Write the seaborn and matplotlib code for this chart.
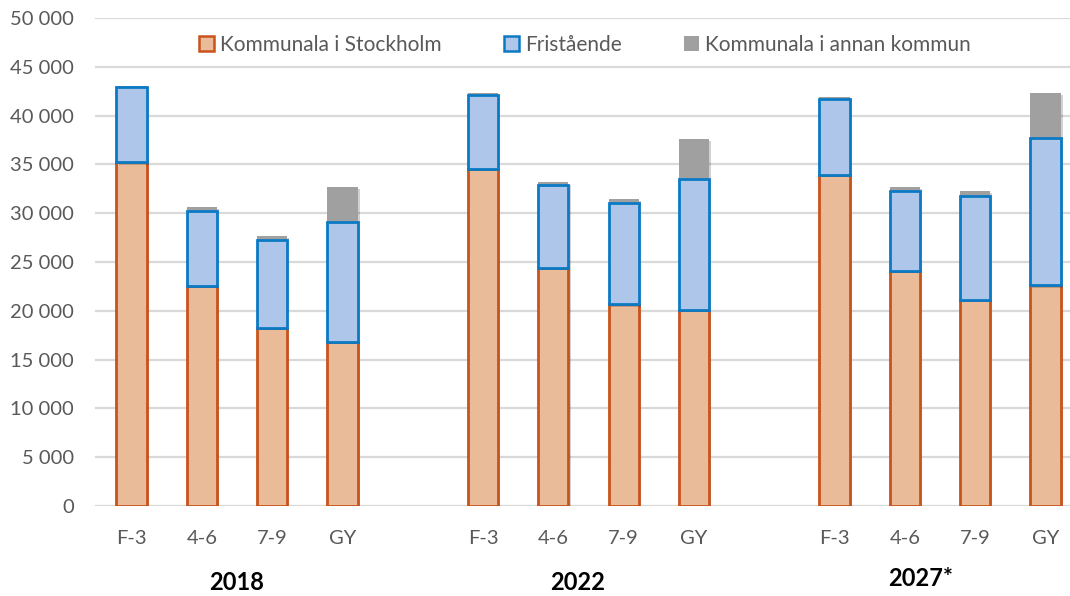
import matplotlib
matplotlib.use("Agg")
import matplotlib.pyplot as plt
import matplotlib.transforms as mtransforms
import matplotlib.patheffects as pe
import seaborn as sns
import pandas as pd
from matplotlib.patches import Patch
from matplotlib.ticker import FuncFormatter

# ----------------- DATA -----------------
years = ["2018", "2022", "2027*"]
levels = ["F-3", "4-6", "7-9", "GY"]
series_names = ["Kommunala i Stockholm", "Fristående", "Kommunala i annan kommun"]

kommunala_sthlm = [35200, 22500, 18250, 16800,
                   34500, 24350, 20650, 20050,
                   33900, 24100, 21100, 22600]
fristaende = [7700, 7750, 9000, 12250,
              7600, 8500, 10400, 13500,
              7800, 8200, 10650, 15150]
annan_kommun = [150, 350, 450, 3650,
                200, 300, 400, 4050,
                250, 400, 500, 4550]

# ----------------- STYLE -----------------
ORANGE_FILL, ORANGE_EDGE = "#E9BB98", "#C8531B"
BLUE_FILL, BLUE_EDGE = "#ADC6E9", "#0B7AC4"
GRAY_FILL = "#A0A0A0"
TEXT = "#595959"

sns.set_theme(style="white")
plt.rcParams["font.family"] = ["Lato", "DejaVu Sans"]

slots = [f"{y} {l}" for y in years for l in levels]
order = slots[0:4] + ["gap1"] + slots[4:8] + ["gap2"] + slots[8:12]
df = pd.DataFrame({
    "slot": slots,
    "sthlm": kommunala_sthlm,
    "fri": fristaende,
    "annan": annan_kommun,
})

fig = plt.figure(figsize=(10.7, 5.96), dpi=100)
ax = fig.add_axes([95 / 1070, 90 / 596, 1 - 95 / 1070, 488 / 596])

bw = 0.43
shadow = [pe.SimplePatchShadow(offset=(1.5, -1.5), shadow_rgbFace="#000000", alpha=0.18), pe.Normal()]
common = dict(data=df, x="slot", order=order, errorbar=None, width=bw, ax=ax)
sns.barplot(y="sthlm", color=ORANGE_FILL, edgecolor=ORANGE_EDGE, linewidth=2,
            saturation=1, zorder=3, **common)
sns.barplot(y="fri", color=BLUE_FILL, edgecolor=BLUE_EDGE, linewidth=2,
            saturation=1, bottom=df["sthlm"].values, zorder=4, **common)
sns.barplot(y="annan", color=GRAY_FILL, linewidth=0, saturation=1,
            bottom=(df["sthlm"] + df["fri"]).values, zorder=3, **common)
for bar in ax.patches:
    bar.set_path_effects(shadow)

ax.set_ylim(0, 50000)
ax.set_xlim(-0.52, 13.35)
ax.set_yticks(range(0, 50001, 5000))
ax.yaxis.set_major_formatter(FuncFormatter(lambda v, p: f"{int(v):,}".replace(",", " ")))
ax.grid(axis="y", color="#D9D9D9", linewidth=1.6, zorder=0)
ax.grid(axis="x", visible=False)
ax.set_axisbelow(True)
for s in ax.spines.values():
    s.set_visible(False)

tick_labels = levels + [""] + levels + [""] + levels
ax.set_xticks(range(len(order)))
ax.set_xticklabels(tick_labels)
ax.tick_params(axis="x", length=0, pad=17, labelsize=14.5, labelcolor=TEXT)
ax.tick_params(axis="y", length=0, pad=15, labelsize=14.5, labelcolor=TEXT)
ax.set_xlabel("")
ax.set_ylabel("")

# year labels under each group
trans = mtransforms.blended_transform_factory(ax.transData, fig.transFigure)
for xpos, yr, ypx in zip([1.49, 6.34, 11.22], years, [583, 583, 578]):
    ax.text(xpos, (596 - ypx) / 596, yr, transform=trans,
            ha="center", va="center", fontsize=17, fontweight="bold", color="black")

handles = [
    Patch(facecolor=ORANGE_FILL, edgecolor=ORANGE_EDGE, linewidth=1.8),
    Patch(facecolor=BLUE_FILL, edgecolor=BLUE_EDGE, linewidth=1.8),
    Patch(facecolor=GRAY_FILL, edgecolor="none"),
]
fig.legend(handles, series_names, loc="center", bbox_to_anchor=(585 / 1070, 1 - 45 / 596),
           ncol=3, frameon=False, fontsize=15, labelcolor=TEXT,
           handlelength=0.7, handleheight=0.7, handletextpad=0.3, columnspacing=3.0)

fig.savefig("out.png", dpi=100)
